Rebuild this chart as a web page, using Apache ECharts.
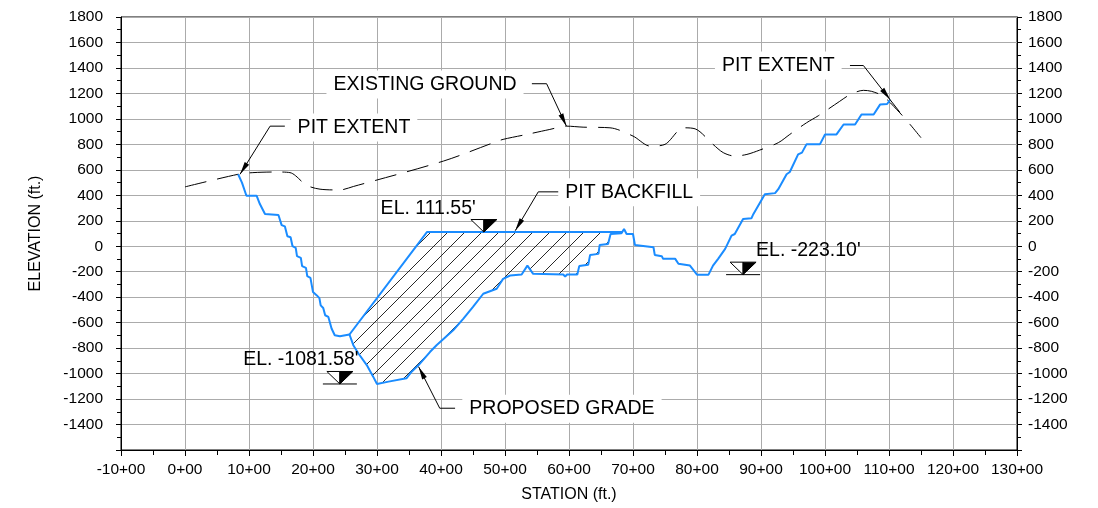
<!DOCTYPE html>
<html><head><meta charset="utf-8">
<script src="https://cdn.jsdelivr.net/npm/echarts@6/dist/echarts.min.js"></script>
<style>html,body{margin:0;padding:0;background:#fff}#c{width:1098px;height:508px}</style>
</head><body><div id="c"></div>
<script>
// ---- data (station in +00 units, elevation in ft) ----
const groundStation = [0, 8.3, 10.6, 14.3, 16.4, 19.0, 21.1, 24.2, 26.3, 40.4, 48.2, 49.7, 53.4, 57.0, 59.6, 62.2, 66.4, 70.0, 72.7, 75.0, 77.9, 79.7, 82.5, 84.1, 85.9, 87.8, 89.8, 92.7, 94.5, 97.1, 99.0, 102.3, 103.9, 106.0, 107.3, 109.1, 111.7, 113.3, 115.0];
const groundElev = [466, 565, 578, 583, 578, 479, 448, 442, 469, 669, 813, 839, 878, 917, 943, 935, 930, 865, 786, 800, 930, 922, 800, 735, 708, 721, 755, 813, 878, 969, 1026, 1138, 1190, 1224, 1216, 1177, 1047, 956, 852];

const gradeStation = [8.3, 8.9, 9.6, 11.2, 11.7, 12.5, 14.6, 15.1, 15.6, 16.0, 16.5, 16.8, 17.3, 17.5, 18.1, 18.3, 18.9, 19.1, 19.6, 20.0, 20.6, 21.0, 21.2, 21.6, 21.9, 22.4, 22.9, 23.4, 24.2, 25.7, 26.3, 27.1, 28.4, 29.4, 30.0, 31.8, 32.1, 34.6, 35.4, 36.5, 38.3, 39.3, 40.6, 41.9, 43.5, 45.0, 46.6, 48.7, 49.7, 50.8, 52.6, 53.5, 54.4, 59.1, 59.4, 59.7, 61.3, 61.6, 63.0, 63.3, 64.6, 64.8, 66.1, 66.5, 68.2, 68.6, 69.0, 70.0, 70.3, 73.2, 73.4, 74.5, 74.7, 76.6, 77.1, 78.9, 80.0, 81.8, 82.5, 83.3, 84.4, 85.4, 85.9, 87.2, 88.5, 88.8, 90.6, 92.2, 92.7, 94.0, 94.5, 95.8, 96.4, 97.1, 99.2, 100.0, 101.8, 102.9, 104.7, 105.7, 107.6, 108.6, 109.7, 110.2];
const gradeElev = [565, 500, 396, 396, 331, 253, 245, 166, 156, 78, 70, 0, -13, -78, -91, -156, -170, -235, -248, -360, -386, -407, -464, -485, -542, -555, -646, -699, -707, -693, -777, -842, -933, -1024, -1081.58, -1063, -1078, -1037, -985, -933, -829, -777, -719, -660, -568, -477, -373, -334, -256, -230, -222, -152, -217, -222, -238, -222, -222, -156, -146, -68, -60, 10, 18, 96, 102, 135, 96, 96, 10, -8, -68, -78, -99, -99, -138, -152, -223.1, -223.1, -152, -99, -21, 83, 96, 213, 219, 252, 409, 417, 448, 565, 583, 721, 735, 800, 800, 878, 878, 956, 956, 1034, 1034, 1112, 1117, 1151];

const backfillStation = [25.7, 37.8, 68.4];
const backfillElev = [-693, 111.55, 111.55];

const callouts = [
  {text: 'EXISTING GROUND', at: [37.5, 1269], leader: [[54.2, 1276], [56.5, 1276], [59.6, 943]]},
  {text: 'PIT EXTENT', at: [26.4, 932], leader: [[15.6, 943], [13.3, 943], [8.6, 565]]},
  {text: 'PIT EXTENT', at: [92.7, 1419], leader: [[103.9, 1419], [106.0, 1419], [111.7, 1052]], tip: [110.2, 1151]},
  {text: 'PIT BACKFILL', at: [69.4, 424], leader: [[58.6, 427], [55.2, 427], [51.6, 122]]},
  {text: 'PROPOSED GRADE', at: [58.9, -1277], leader: [[42.2, -1272], [39.8, -1272], [36.5, -946]]}
];
const levels = [
  {text: "EL. 111.55'", at: [38.0, 297], mark: [46.7, 111.55], base: false},
  {text: "EL. -1081.58'", at: [18.1, -889], mark: [24.2, -1081.58], base: true},
  {text: "EL. -223.10'", at: [97.4, -34], mark: [87.2, -223.1], base: true}
];

// ---- build ----
const FONT = '"Liberation Sans", Arial, sans-serif';
const BLUE = '#1a8cff';
const zip = (a, b) => a.map((v, i) => [v, b[i]]);
const groundData = zip(groundStation, groundElev);
const gradeData = zip(gradeStation, gradeElev);
const backfillTop = zip(backfillStation, backfillElev);
const backfillPoly = backfillTop.concat(
  gradeData.filter(p => p[0] >= backfillStation[0] && p[0] <= backfillStation[backfillStation.length - 1]).reverse()
);

// hatch pattern
const S = 17;
const pc = document.createElement('canvas');
pc.width = S; pc.height = S;
const g = pc.getContext('2d');
g.strokeStyle = '#111'; g.lineWidth = 0.9;
g.beginPath();
g.moveTo(0, S); g.lineTo(S, 0);
g.moveTo(-2, 2); g.lineTo(2, -2);
g.moveTo(S - 2, S + 2); g.lineTo(S + 2, S - 2);
g.stroke();

const chart = echarts.init(document.getElementById('c'), null, {renderer: 'canvas'});

function arrowHead(tip, from, len, hw) {
  const dx = tip[0] - from[0], dy = tip[1] - from[1];
  const d = Math.sqrt(dx * dx + dy * dy) || 1;
  const ux = dx / d, uy = dy / d;
  const bx = tip[0] - ux * len, by = tip[1] - uy * len;
  return [[tip[0], tip[1]], [bx - uy * hw, by + ux * hw], [bx + uy * hw, by - ux * hw]];
}

const yAxisBase = {
  type: 'value', min: -1600, max: 1800, interval: 200,
  axisLine: {show: true, onZero: false, lineStyle: {color: '#000', width: 1}},
  axisTick: {show: true, length: 5, lineStyle: {color: '#000'}},
  minorTick: {show: true, splitNumber: 2, length: 4, lineStyle: {color: '#000'}},
  axisLabel: {color: '#000', fontSize: 15.5, fontFamily: FONT, formatter: v => (v === -1600 ? '' : String(v))}
};

const option = {
  animation: false,
  backgroundColor: '#fff',
  grid: {left: 121, right: 81, top: 17, bottom: 55, show: true, borderColor: '#000', borderWidth: 1},
  xAxis: {
    type: 'value', min: -10, max: 130, interval: 10,
    name: 'STATION (ft.)', nameLocation: 'middle', nameGap: 37,
    nameTextStyle: {fontSize: 16, color: '#000', fontFamily: FONT},
    axisLine: {show: true, onZero: false, lineStyle: {color: '#000', width: 1}},
    axisTick: {show: true, length: 6, lineStyle: {color: '#000'}},
    minorTick: {show: true, splitNumber: 2, length: 5, lineStyle: {color: '#000'}},
    axisLabel: {color: '#000', fontSize: 15.5, fontFamily: FONT, margin: 12, formatter: v => v + '+00'},
    splitLine: {show: true, lineStyle: {color: '#ababab', width: 1}}
  },
  yAxis: [
    Object.assign({}, yAxisBase, {
      position: 'left', name: 'ELEVATION (ft.)', nameLocation: 'middle', nameGap: 77,
      nameTextStyle: {fontSize: 16, color: '#000', fontFamily: FONT},
      axisLabel: Object.assign({}, yAxisBase.axisLabel, {margin: 18}),
      splitLine: {show: true, lineStyle: {color: '#ababab', width: 1}}
    }),
    Object.assign({}, yAxisBase, {
      position: 'right',
      axisLabel: Object.assign({}, yAxisBase.axisLabel, {margin: 11}),
      splitLine: {show: false}
    })
  ],
  series: [
    {
      type: 'custom', name: 'hatch', z: 2, silent: true,
      data: [[backfillPoly[0][0], backfillPoly[0][1]]],
      renderItem: function (params, api) {
        return {
          type: 'polygon',
          shape: {points: backfillPoly.map(p => api.coord(p))},
          style: {fill: {image: pc, repeat: 'repeat'}, stroke: null}
        };
      }
    },
    {
      type: 'line', name: 'EXISTING GROUND', data: groundData, showSymbol: false, smooth: 0.3, z: 3,
      lineStyle: {color: '#000', width: 1, type: [22, 11]}
    },
    {
      type: 'line', name: 'PROPOSED GRADE', data: gradeData, showSymbol: false, z: 4,
      lineStyle: {color: BLUE, width: 2}
    },
    {
      type: 'line', name: 'PIT BACKFILL', data: backfillTop, showSymbol: false, z: 4,
      lineStyle: {color: BLUE, width: 2}
    },
    {
      type: 'custom', name: 'callouts', z: 6, silent: true, clip: false,
      data: callouts.map(c => c.at),
      renderItem: function (params, api) {
        const c = callouts[params.dataIndex];
        const pts = c.leader.map(p => api.coord(p));
        const n = pts.length;
        let tip = pts[n - 1];
        if (c.tip) tip = api.coord(c.tip);
        const c0 = api.coord(c.at);
        return {
          type: 'group',
          children: [
            {type: 'polyline', shape: {points: pts}, style: {stroke: '#000', lineWidth: 1, fill: null}},
            {type: 'polygon', shape: {points: arrowHead(tip, pts[n - 2], 13, 2.6)}, style: {fill: '#000'}},
            {type: 'text', x: c0[0], y: c0[1], style: {
              text: c.text, fill: '#000', fontSize: 19.5, fontFamily: FONT,
              align: 'center', verticalAlign: 'middle', backgroundColor: '#fff', padding: [4, 7]
            }}
          ]
        };
      }
    },
    {
      type: 'custom', name: 'levels', z: 7, silent: true, clip: false,
      data: levels.map(l => l.at),
      renderItem: function (params, api) {
        const l = levels[params.dataIndex];
        const a = api.coord(l.mark);
        const t = api.coord(l.at);
        const hw = 13, h = 12.5;
        const ch = [
          {type: 'polygon', shape: {points: [[a[0] - hw, a[1] - h], [a[0], a[1] - h], [a[0], a[1]]]}, style: {fill: '#fff', stroke: '#000', lineWidth: 1}},
          {type: 'polygon', shape: {points: [[a[0], a[1] - h], [a[0] + hw, a[1] - h], [a[0], a[1]]]}, style: {fill: '#000', stroke: '#000', lineWidth: 1}},
          {type: 'text', x: t[0], y: t[1], style: {text: l.text, fill: '#000', fontSize: 19.5, fontFamily: FONT, align: 'center', verticalAlign: 'middle'}}
        ];
        if (l.base) ch.push({type: 'line', shape: {x1: a[0] - 17, y1: a[1], x2: a[0] + 17, y2: a[1]}, style: {stroke: '#000', lineWidth: 1}});
        return {type: 'group', children: ch};
      }
    }
  ]
};
chart.setOption(option);
</script>
</body></html>
